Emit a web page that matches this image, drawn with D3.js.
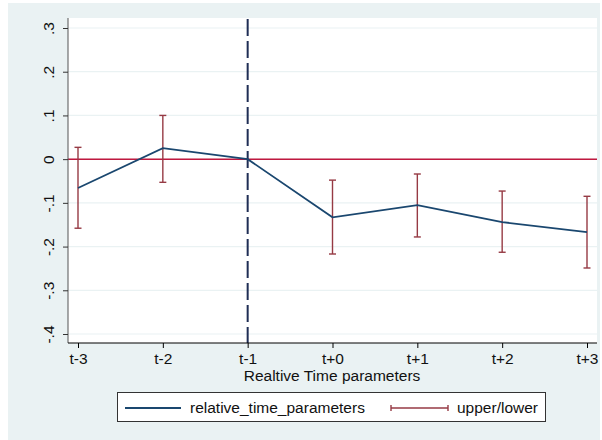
<!DOCTYPE html>
<html><head><meta charset="utf-8">
<script src="https://cdn.jsdelivr.net/npm/d3@7"></script>
<style>body{margin:0;background:#fff}svg{display:block}text{font-family:"Liberation Sans",Arial,sans-serif}</style>
</head><body><svg id="c" width="602" height="440"></svg>
<script>
const categories = ["t-3","t-2","t-1","t+0","t+1","t+2","t+3"];
const estimates  = [-0.066, 0.025, 0, -0.133, -0.105, -0.144, -0.167];
const upper      = [0.027, 0.100, 0, -0.048, -0.034, -0.073, -0.085];
const lower      = [-0.158, -0.053, 0, -0.217, -0.178, -0.213, -0.249];
const yTicks     = [-0.4,-0.3,-0.2,-0.1,0,0.1,0.2,0.3];
const yTickLabels= ["-.4","-.3","-.2","-.1","0",".1",".2",".3"];
const xTitle = "Realtive Time parameters";
const legendLabels = ["relative_time_parameters","upper/lower"];

const FS = 15.5;
const svg = d3.select("#c");
const bg="#eaf2f3", navy="#1a476f", maroon="#963a44", red="#c0183f";
svg.append("rect").attr("x",8).attr("y",3).attr("width",592).attr("height",437).attr("fill",bg);
const L=68,R=597,T=18,B=343;
svg.append("rect").attr("x",L).attr("y",T).attr("width",R-L).attr("height",B-T).attr("fill","#fff");

const x = d3.scalePoint().domain(categories).range([78,587]);
const y = d3.scaleLinear().domain([-0.4,0.3]).range([334,28]);

// grid
svg.append("g").selectAll("line").data(yTicks).join("line")
  .attr("x1",L).attr("x2",R).attr("y1",d=>y(d)).attr("y2",d=>y(d))
  .attr("stroke",bg).attr("stroke-width",1.2);

// zero line
svg.append("line").attr("x1",L).attr("x2",R).attr("y1",y(0)).attr("y2",y(0))
  .attr("stroke",red).attr("stroke-width",1.5);

// vertical dashed line
svg.append("line").attr("x1",x("t-1")).attr("x2",x("t-1")).attr("y1",T+1).attr("y2",B)
  .attr("stroke","#1f2d55").attr("stroke-width",2).attr("stroke-dasharray","17,5");

// error bars
const data = categories.map((c,i)=>({c,e:estimates[i],u:upper[i],l:lower[i]})).filter(d=>d.u!==d.l);
const eb = svg.append("g").attr("stroke",maroon).attr("stroke-width",1.4).attr("fill","none");
data.forEach(d=>{
  const cx=x(d.c);
  eb.append("line").attr("x1",cx).attr("x2",cx).attr("y1",y(d.u)).attr("y2",y(d.l));
  eb.append("line").attr("x1",cx-3.5).attr("x2",cx+3.5).attr("y1",y(d.u)).attr("y2",y(d.u));
  eb.append("line").attr("x1",cx-3.5).attr("x2",cx+3.5).attr("y1",y(d.l)).attr("y2",y(d.l));
});

// line
svg.append("path").datum(categories.map((c,i)=>[c,estimates[i]]))
  .attr("fill","none").attr("stroke",navy).attr("stroke-width",1.8)
  .attr("d",d3.line().x(d=>x(d[0])).y(d=>y(d[1])));

// axes
const yAxis = d3.axisLeft(y).tickValues(yTicks).tickFormat((d,i)=>yTickLabels[i]).tickSize(5);
const gy = svg.append("g").attr("transform",`translate(${L},0)`).call(yAxis);
gy.attr("font-family",null).attr("font-size",null);
gy.select(".domain").attr("d",`M0,${T}V${B}`).attr("stroke","#555");
gy.selectAll(".tick line").attr("stroke","#333");
gy.selectAll(".tick text").attr("font-size",FS).attr("fill","#111")
  .attr("text-anchor","middle").attr("x",0).attr("y",0).attr("dy","0.35em")
  .attr("transform","translate(-19,0) rotate(-90)");

const xAxis = d3.axisBottom(x).tickSize(5).tickPadding(5);
const gx = svg.append("g").attr("transform",`translate(0,${B})`).call(xAxis);
gx.attr("font-family",null).attr("font-size",null);
gx.select(".domain").attr("d",`M${L},0H${R}`).attr("stroke","#000");
gx.selectAll(".tick text").attr("font-size",FS).attr("fill","#111");

svg.append("text").attr("x",332).attr("y",381).attr("text-anchor","middle")
  .attr("font-size",FS).attr("fill","#111").text(xTitle);

// legend
svg.append("rect").attr("x",117.5).attr("y",392.5).attr("width",428).attr("height",29)
  .attr("fill","#fff").attr("stroke","#333").attr("stroke-width",1);
svg.append("line").attr("x1",125).attr("x2",181).attr("y1",408).attr("y2",408).attr("stroke",navy).attr("stroke-width",1.8);
svg.append("text").attr("x",190).attr("y",413).attr("font-size",FS).attr("fill","#111").text(legendLabels[0]);
const lg = svg.append("g").attr("stroke",maroon).attr("stroke-width",1.4);
lg.append("line").attr("x1",391).attr("x2",448).attr("y1",408).attr("y2",408);
lg.append("line").attr("x1",391).attr("x2",391).attr("y1",405).attr("y2",411);
lg.append("line").attr("x1",448).attr("x2",448).attr("y1",405).attr("y2",411);
svg.append("text").attr("x",457).attr("y",413).attr("font-size",FS).attr("fill","#111").text(legendLabels[1]);
</script></body></html>
